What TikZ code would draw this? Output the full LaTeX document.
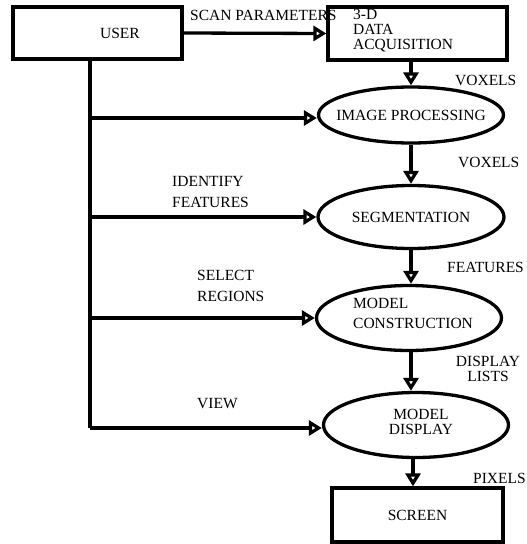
\documentclass[tikz,border=0pt]{standalone}
\usepackage{fontspec}
\setmainfont{Liberation Serif}
\usetikzlibrary{arrows.meta,shapes.geometric}
\begin{document}
\begin{tikzpicture}[x=1pt,y=-1pt,
  every node/.style={font=\fontsize{15.5}{15}\selectfont},
  box/.style={draw,line width=3.3pt,inner sep=0pt},
  oval/.style={draw,ellipse,line width=3.3pt,inner sep=0pt},
  lbl/.style={inner sep=0pt,align=left},
  flow/.style={line width=3.3pt,-{Triangle[open,length=13pt,width=15pt]}},
  wire/.style={line width=3.3pt}]
\useasboundingbox (0,0) rectangle (527,544);

% boxes and ovals
\node[box,minimum width=169pt,minimum height=52pt] (user) at (97.5,33) {};
\node[lbl] (usertxt) at (120,33) {USER};
\node[box,minimum width=179pt,minimum height=53pt] (daq) at (417.5,33.5) {};
\node[lbl,anchor=west] (daqtxt) at (353,31) {3-D\\DATA\\ACQUISITION};
\node[oval,minimum width=185pt,minimum height=56pt] (ip) at (411,115) {};
\node[lbl] (iptxt) at (411,115) {IMAGE PROCESSING};
\node[oval,minimum width=186pt,minimum height=63pt] (seg) at (411,217) {};
\node[lbl] (segtxt) at (411,217) {SEGMENTATION};
\node[oval,minimum width=185pt,minimum height=65pt] (mc) at (409,318) {};
\node[lbl,anchor=west] (mctxt) at (353,313) {MODEL\\[5pt]CONSTRUCTION};
\node[oval,minimum width=185pt,minimum height=65pt] (md) at (416,425) {};
\node[lbl,align=center] (mdtxt) at (421,422) {MODEL\\DISPLAY};
\node[box,minimum width=171pt,minimum height=54pt] (screen) at (417.5,515) {SCREEN};

% user trunk and branches
\coordinate (top) at (90,59);
\coordinate (bot) at (90,428);
\draw[wire] (top) -- (bot);
\draw[flow] (user.east) -- (daq.west);
\draw[flow] (90,118) -- (ip.west |- 0,118);
\draw[flow] (90,217) -- (seg.west);
\draw[flow] (90,318) -- (mc.west);
\draw[flow] (bot) -- (md.west |- bot);

% data flow down the chain
\draw[flow] (ip.north |- daq.south) -- (ip.north);
\draw[flow] (ip.south) -- (seg.north);
\draw[flow] (seg.south) -- (seg.south |- mc.north);
\draw[flow] (seg.south |- mc.south) -- (seg.south |- md.north);
\draw[flow] (413,0 |- md.south) -- (413,0 |- screen.north);

% labels
\node[lbl,anchor=west] (l1) at (190,15) {SCAN PARAMETERS};
\node[lbl,anchor=west] (l2) at (455,80) {VOXELS};
\node[lbl,anchor=west] (l3) at (458,162) {VOXELS};
\node[lbl,anchor=west] (l4) at (172,192) {IDENTIFY\\[6pt]FEATURES};
\node[lbl,anchor=west] (l5) at (447,267) {FEATURES};
\node[lbl,anchor=west] (l6) at (197,286) {SELECT\\[6pt]REGIONS};
\node[lbl,align=center] (l7) at (488,369) {DISPLAY\\LISTS};
\node[lbl,anchor=west] (l8) at (197,404) {VIEW};
\node[lbl,anchor=west] (l9) at (473,478) {PIXELS};
\end{tikzpicture}
\end{document}
